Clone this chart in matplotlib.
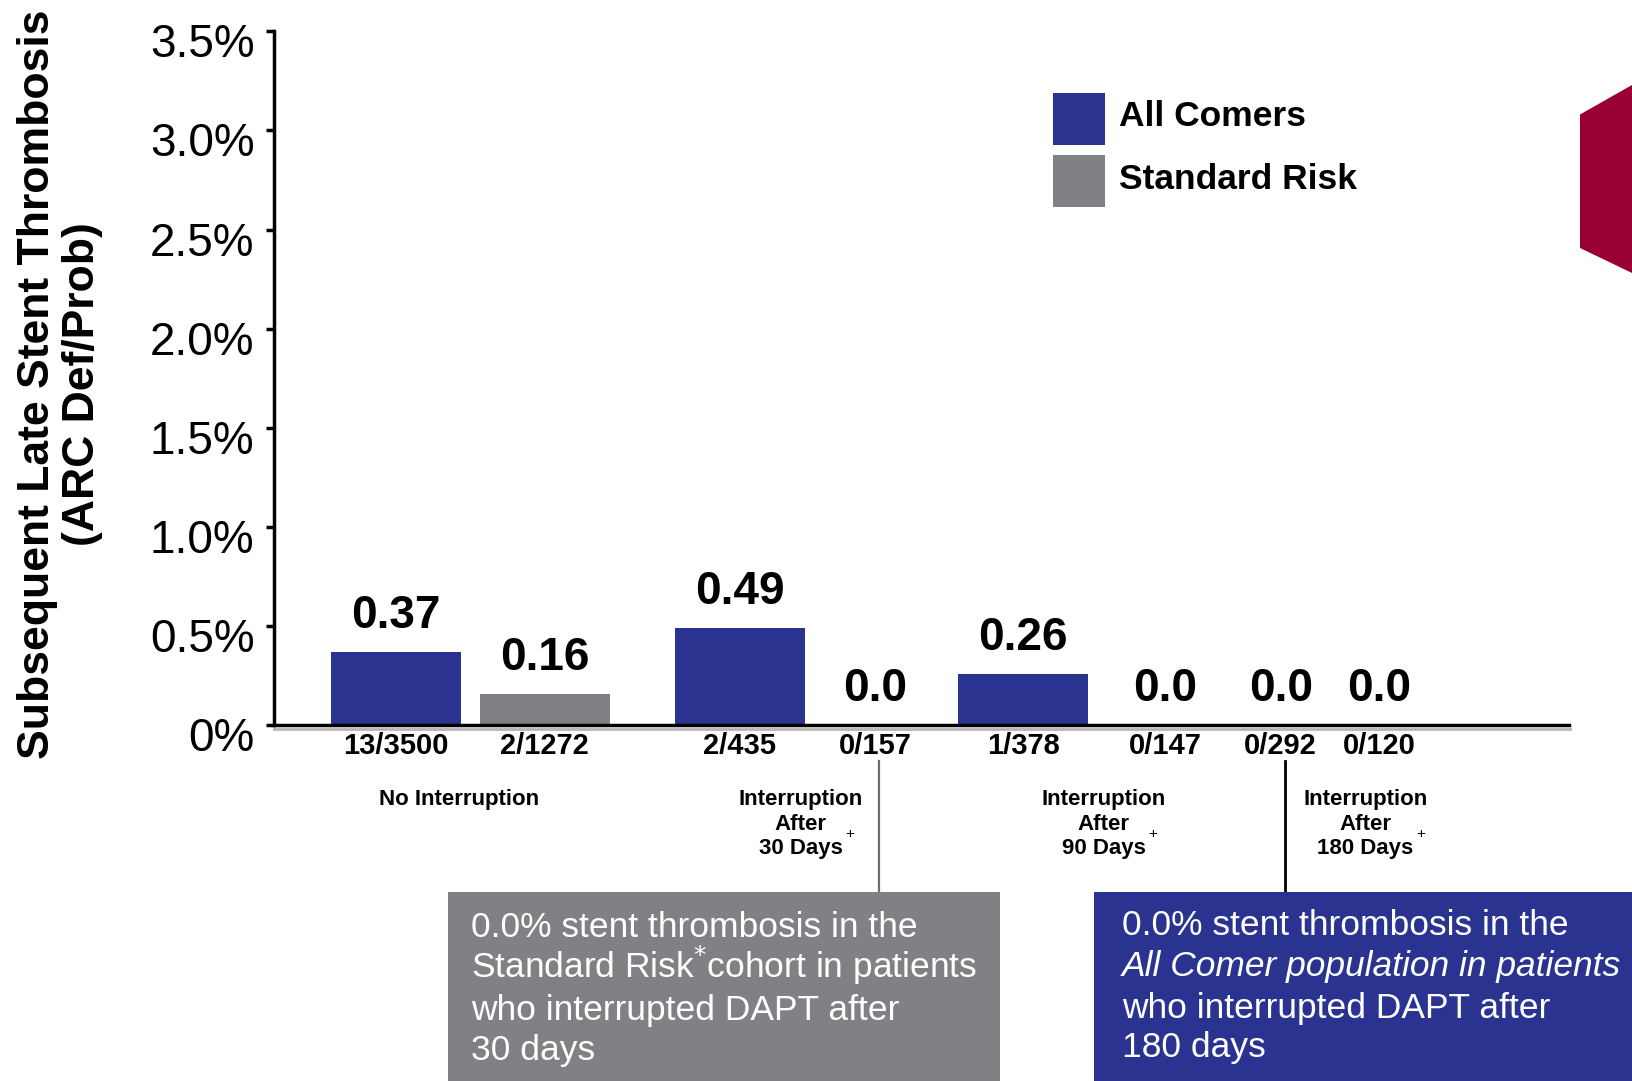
import matplotlib
matplotlib.use("Agg")
import matplotlib.pyplot as plt
from matplotlib.patches import Rectangle, Polygon
from matplotlib.transforms import ScaledTranslation, blended_transform_factory

# Chart data
cohorts = ["All Comers", "Standard Risk"]
bar_cohort = ["All Comers", "Standard Risk", "All Comers", "Standard Risk",
              "All Comers", "Standard Risk", "All Comers", "Standard Risk"]
rates = [0.37, 0.16, 0.49, 0.0, 0.26, 0.0, 0.0, 0.0]
rate_labels = ["0.37", "0.16", "0.49", "0.0", "0.26", "0.0", "0.0", "0.0"]
counts = ["13/3500", "2/1272", "2/435", "0/157", "1/378", "0/147", "0/292", "0/120"]
groups = [["No Interruption"],
          ["Interruption", "After", "30 Days"],
          ["Interruption", "After", "90 Days"],
          ["Interruption", "After", "180 Days"]]
group_marks = ["", "+", "+", "+"]
yticks = [0, 0.5, 1.0, 1.5, 2.0, 2.5, 3.0, 3.5]
ytick_labels = ["0%", "0.5%", "1.0%", "1.5%", "2.0%", "2.5%", "3.0%", "3.5%"]
ylabel = "Subsequent Late Stent Thrombosis\n(ARC Def/Prob)"

gray_note = ["0.0% stent thrombosis in the",
             "Standard Risk$^{*}$cohort in patients",
             "who interrupted DAPT after",
             "30 days"]
navy_note = ["0.0% stent thrombosis in the",
             "All Comer population in patients",
             "who interrupted DAPT after",
             "180 days"]

# layout (bar centres in bar-width units along the axis)
bar_x = [0.94, 2.08, 3.58, 4.62, 5.76, 6.85, 7.74, 8.50]
group_x = [1.42, 4.05, 6.38, 8.39]
group_line_dy = [-53, -71, -88.5]

navy = "#2a3490"
gray = "#808184"
colors = {"All Comers": navy, "Standard Risk": gray}

plt.rcParams["font.family"] = "Liberation Sans"

W, H = 1632, 1081
def fx(px):
    return px / W
def fy(py):
    return 1 - py / H

fig = plt.figure(figsize=(W / 100, H / 100), dpi=100)
ax = fig.add_axes([fx(274), fy(725.4), (1569.5 - 274) / W, (725.4 - 31.2) / H])

ax.bar(bar_x, rates, width=1.0, color=[colors[c] for c in bar_cohort], zorder=2)

ax.set_yticks(yticks)
ax.set_yticklabels(ytick_labels, fontsize=33)
ax.set_xticks([])
ax.tick_params(axis="y", length=6, width=2.5, pad=8)
for lbl in ax.get_yticklabels():
    lbl.set_transform(lbl.get_transform() + ScaledTranslation(0, -0.09, fig.dpi_scale_trans))
for s in ["top", "right"]:
    ax.spines[s].set_visible(False)
for s in ["left", "bottom"]:
    ax.spines[s].set_linewidth(2.5)
    ax.spines[s].set_color("black")

# light shadow under the baseline
ax.plot([0, 1], [0, 0], transform=ax.transAxes + ScaledTranslation(0, -0.035, fig.dpi_scale_trans),
        color="#b5b5b5", lw=2, clip_on=False, zorder=1)

# value and n/N labels
for x, r, lab, n in zip(bar_x, rates, rate_labels, counts):
    ax.annotate(lab, (x, r), xytext=(0, 26), textcoords="offset points", ha="center", va="center",
                fontsize=33, fontweight="bold")
    ax.annotate(n, (x, 0), xytext=(0, -14.5), textcoords="offset points", ha="center", va="center",
                fontsize=21, fontweight="bold")

# group labels, one line at a time so the "+" can sit after the last line
for gx, lines, m in zip(group_x, groups, group_marks):
    last = None
    for line, dy in zip(lines, group_line_dy):
        last = ax.annotate(line, (gx, 0), xytext=(0, dy), textcoords="offset points", ha="center",
                           va="center", fontsize=16, fontweight="bold", annotation_clip=False)
    if m:
        ax.annotate(m, xy=(1, 0.5), xycoords=last, xytext=(2, 10), textcoords="offset points",
                    ha="left", va="center", fontsize=11)

# connector lines to the callout boxes
trans = blended_transform_factory(ax.transData, fig.transFigure)
ax.plot([bar_x[3] + 0.03, bar_x[3] + 0.03], [fy(761), fy(892)], transform=trans,
        color="#6d6e71", lw=1.6, clip_on=False)
ax.plot([bar_x[6] + 0.03, bar_x[6] + 0.03], [fy(761), fy(892)], transform=trans,
        color="black", lw=2, clip_on=False)
ax.set_xlim(0, 9.96)
ax.set_ylim(0, 3.5)

# callout boxes
fig.add_artist(Rectangle((fx(447.5), 0), fx(1000) - fx(447.5), fy(892), transform=fig.transFigure,
                         facecolor=gray, edgecolor="none"))
fig.add_artist(Rectangle((fx(1094), 0), 1 - fx(1094), fy(892), transform=fig.transFigure,
                         facecolor=navy, edgecolor="none"))
for t, y in zip(gray_note, [937, 978, 1020, 1060]):
    fig.text(fx(471.5), fy(y), t, color="white", fontsize=25.5, va="baseline", ha="left")
for i, (t, y) in enumerate(zip(navy_note, [935, 976, 1018, 1057])):
    fig.text(fx(1122), fy(y), t, color="white", fontsize=25.5, va="baseline", ha="left",
             style="italic" if i == 1 else "normal")

# legend (drawn by hand to match square swatches)
for i, c in enumerate(cohorts):
    top = 92.6 + i * 62.5
    fig.add_artist(Rectangle((fx(1053), fy(top + 52)), 52 / W, 52 / H, transform=fig.transFigure,
                             facecolor=colors[c], edgecolor="none"))
    fig.text(fx(1119), fy(top + 24), c, fontsize=25.5, fontweight="bold", va="center", ha="left")

# y axis title
fig.text(fx(60), fy(384), ylabel, rotation=90, ha="center", va="center", fontsize=32,
         fontweight="bold", linespacing=1.12)

# maroon hexagon on the right edge
fig.add_artist(Polygon([(fx(1632), fy(85)), (fx(1580), fy(114.5)), (fx(1580), fy(248)), (fx(1632), fy(273))],
                       closed=True, transform=fig.transFigure, facecolor="#990033", edgecolor="none"))

fig.savefig("out.png", dpi=100)
